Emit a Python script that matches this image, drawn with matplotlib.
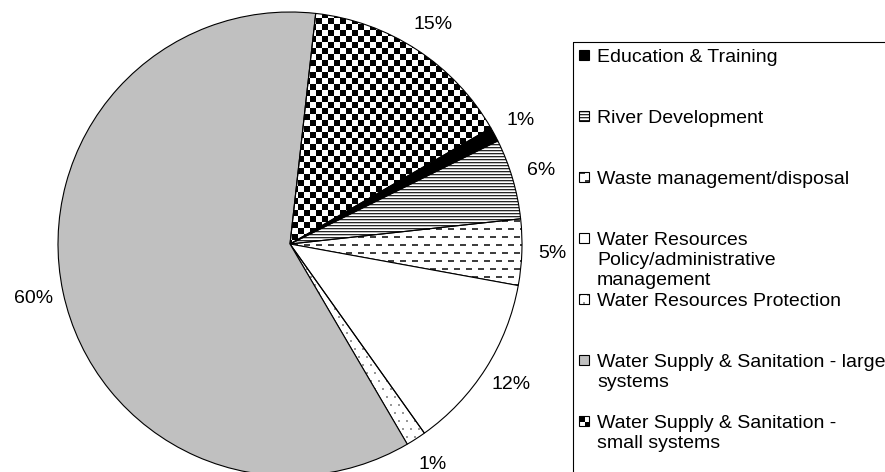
import numpy as np
import matplotlib
matplotlib.use('Agg')
import matplotlib.pyplot as plt
from matplotlib.patches import Rectangle

plt.rcParams['font.family'] = ['Liberation Sans', 'DejaVu Sans']

categories = ['Education & Training',
              'River Development',
              'Waste management/disposal',
              'Water Resources\nPolicy/administrative\nmanagement',
              'Water Resources Protection',
              'Water Supply & Sanitation - large\nsystems',
              'Water Supply & Sanitation -\nsmall systems']
shares = [1.0, 5.6, 4.6, 12.3, 1.4, 60.2, 14.9]
fills = ['black', 'hlines', 'dashes', 'white', 'dots', 'gray', 'checker']

solid = {'black': 'black', 'white': 'white', 'gray': '#c0c0c0'}


def texture(kind, n_rows, n_cols):
    # pixel patterns that stand in for the excel fill patterns
    yy, xx = np.indices((n_rows, n_cols))
    img = np.ones((n_rows, n_cols))
    if kind == 'checker':
        img[((xx // 6 + yy // 6) % 2) == 0] = 0.0
    elif kind == 'hlines':
        img[yy % 3 == 0] = 0.15
        img[yy % 3 == 1] = 0.75
    elif kind == 'dashes':
        row = yy // 8
        img[(yy % 8 < 2) & (((xx + 6 * (row % 2)) % 12) < 6)] = 0.25
    elif kind == 'dots':
        row = yy // 8
        img[(yy % 8 < 2) & (((xx + 4 * (row % 2)) % 8) < 2)] = 0.6
    return np.dstack([img] * 3)


fig = plt.figure(figsize=(8.85, 4.72), dpi=100)

#%% pie
ax = fig.add_axes([58 / 885, -4 / 472, 464 / 885, 464 / 472])
colors = [solid.get(f, 'white') for f in fills]
wedges, _, pct = ax.pie(shares, startangle=30, counterclock=False, colors=colors,
                        wedgeprops=dict(edgecolor='black', linewidth=0.8),
                        autopct='%.0f%%', pctdistance=1.13,
                        textprops=dict(fontsize=14, color='black'))
for w, f in zip(wedges, fills):
    if f in solid:
        continue
    w.set_facecolor('none')
    im = ax.imshow(texture(f, 464, 464), extent=(-1, 1, -1, 1),
                   interpolation='nearest', zorder=0.5)
    im.set_clip_path(w)
ax.set_xlim(-1, 1)
ax.set_ylim(-1, 1)
ax.set_axis_off()

#%% legend, drawn in pixel coords
lax = fig.add_axes([0, 0, 1, 1])
lax.set_axis_off()
lax.add_patch(Rectangle((573, 42), 400, 500, fill=False, edgecolor='black', linewidth=0.8))
for i, (lab, f) in enumerate(zip(categories, fills)):
    y = 55 + 61 * i
    x0, y0 = 579, y - 5
    if f in solid:
        lax.add_patch(Rectangle((x0, y0), 10, 10, facecolor=solid[f], edgecolor='black', linewidth=0.8))
    else:
        lax.imshow(texture(f, 10, 10), extent=(x0, x0 + 10, y0 + 10, y0), interpolation='nearest')
        lax.add_patch(Rectangle((x0, y0), 10, 10, fill=False, edgecolor='black', linewidth=0.8))
    for k, line in enumerate(lab.split('\n')):
        lax.text(597, y + 7 + k * 20, line, fontsize=14, va='baseline', ha='left')
lax.set_xlim(0, 885)
lax.set_ylim(472, 0)
lax.set_aspect('auto')

fig.savefig('out.png', dpi=100)
